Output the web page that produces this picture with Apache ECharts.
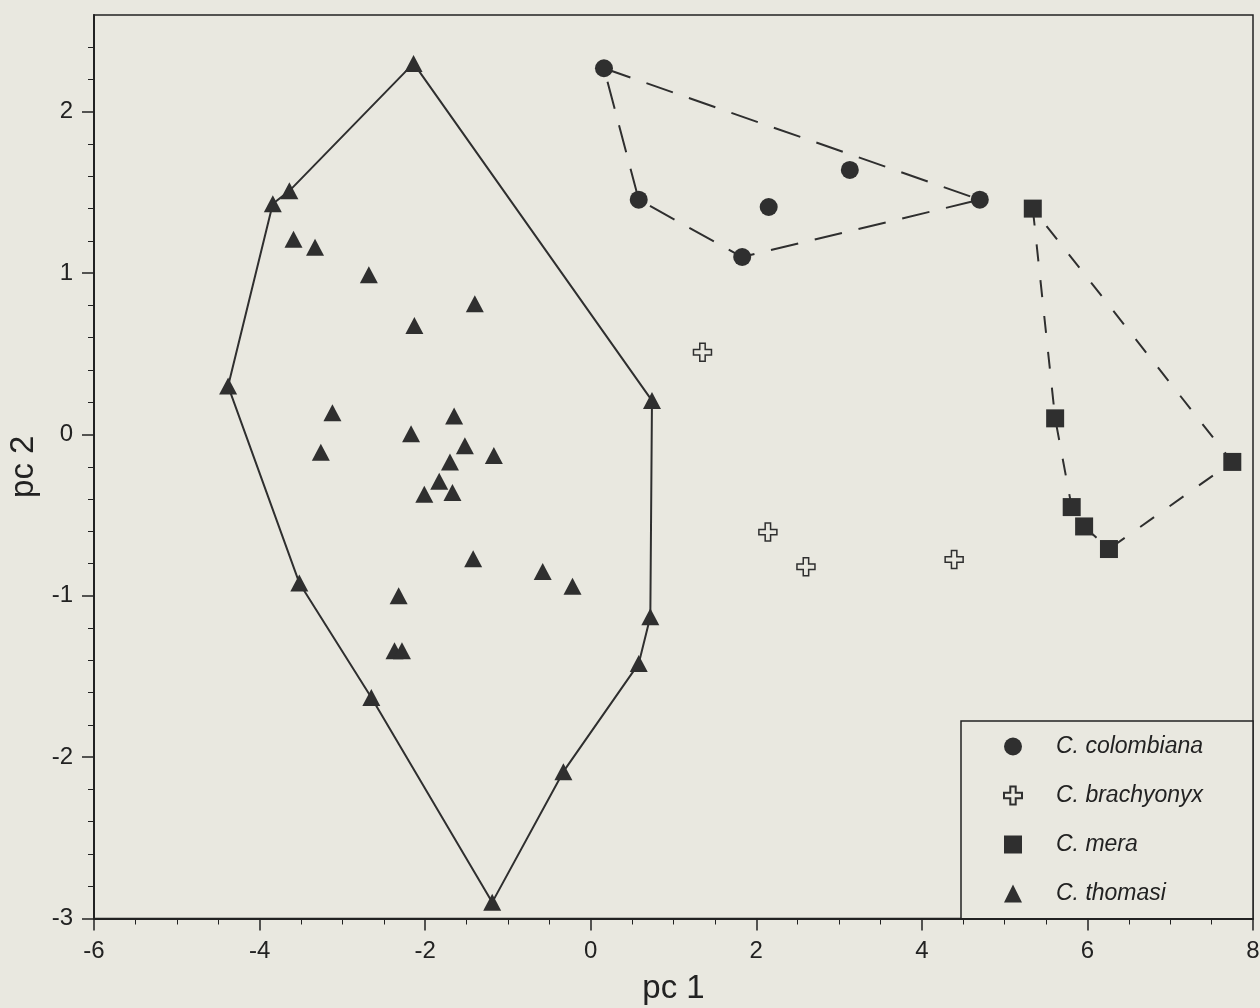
<!DOCTYPE html>
<html>
<head>
<meta charset="utf-8">
<script src="https://cdn.jsdelivr.net/npm/echarts@6/dist/echarts.min.js"></script>
<style>
  html, body { margin: 0; padding: 0; background: #e9e8e0; }
  #chart { width: 1260px; height: 1008px; }
</style>
</head>
<body>
<div id="chart"></div>
<script>
// ---- data ----
const seriesNames = ['C. colombiana', 'C. brachyonyx', 'C. mera', 'C. thomasi'];

const colombiana = [[0.16, 2.27], [0.58, 1.455], [1.83, 1.10], [2.15, 1.41], [3.13, 1.64], [4.70, 1.455]];
const colombianaHull = [0, 5, 2, 1, 0];

const brachyonyx = [[1.35, 0.51], [2.14, -0.605], [2.60, -0.82], [4.39, -0.775]];

const mera = [[5.34, 1.40], [5.61, 0.10], [5.81, -0.45], [5.96, -0.57], [6.26, -0.71], [7.75, -0.17]];
const meraHull = [0, 1, 2, 3, 4, 5, 0];

const thomasi = [
  [-2.14, 2.30], [-3.64, 1.51], [-3.84, 1.43], [-3.59, 1.21], [-3.33, 1.16], [-2.68, 0.99],
  [-2.13, 0.675], [-1.40, 0.81], [-4.38, 0.30], [-3.12, 0.135], [-3.26, -0.11], [-2.17, 0.005],
  [-1.65, 0.115], [-1.52, -0.07], [-1.17, -0.13], [-1.70, -0.17], [-1.83, -0.29], [-2.01, -0.37],
  [-1.67, -0.36], [-1.42, -0.77], [-0.58, -0.85], [-0.22, -0.94], [-3.52, -0.92], [-2.32, -1.00],
  [-2.37, -1.34], [-2.28, -1.34], [-2.65, -1.63], [-0.33, -2.09], [-1.19, -2.90], [0.58, -1.42],
  [0.72, -1.13], [0.74, 0.21]
];
const thomasiHull = [0, 1, 2, 8, 22, 26, 28, 27, 29, 30, 31, 0];

const yMajorTicks = [-3, -2, -1, 0, 1, 2];
const yMinorTicks = [-2.8, -2.6, -2.4, -2.2, -1.8, -1.6, -1.4, -1.2, -0.8, -0.6, -0.4, -0.2,
  0.2, 0.4, 0.6, 0.8, 1.2, 1.4, 1.6, 1.8, 2.2, 2.4];

// ---- styles ----
const BG = '#e9e8e0';
const INK = '#2f2f2f';
const FONT = 'Liberation Sans, Arial, sans-serif';
const crossPath = 'path://M7,0H13V7H20V13H13V20H7V13H0V7H7Z';

function pick(points, idx) { return idx.map(i => points[i]); }

const chart = echarts.init(document.getElementById('chart'));

const hullSeries = (data, dash) => ({
  type: 'line',
  data: data,
  symbol: 'none',
  silent: true,
  z: 1,
  lineStyle: { color: INK, width: 2, type: dash }
});

chart.setOption({
  animation: false,
  backgroundColor: BG,
  grid: {
    left: 94, right: 7, top: 15, bottom: 89.5,
    outerBoundsMode: 'none',
    containLabel: false,
    show: true, borderColor: '#222', borderWidth: 1.5, backgroundColor: 'transparent'
  },
  xAxis: {
    type: 'value', min: -6, max: 8, interval: 2,
    name: 'pc 1', nameLocation: 'middle', nameGap: 54,
    nameTextStyle: { fontSize: 33, fontFamily: FONT, color: '#222' },
    axisLine: { show: true, onZero: false, lineStyle: { color: '#222', width: 2 } },
    axisTick: { show: true, length: 12, lineStyle: { color: '#222', width: 1.5 } },
    minorTick: { show: true, splitNumber: 4, length: 6, lineStyle: { color: '#222', width: 1 } },
    axisLabel: { fontSize: 24, fontFamily: FONT, color: '#222', margin: 21 },
    splitLine: { show: false },
    minorSplitLine: { show: false }
  },
  yAxis: [{
    type: 'value', min: -3, max: 2.6,
    name: 'pc 2', nameLocation: 'middle', nameGap: 50,
    nameTextStyle: { fontSize: 33, fontFamily: FONT, color: '#222' },
    axisLine: { show: true, onZero: false, lineStyle: { color: '#222', width: 2 } },
    axisTick: { show: true, length: 12, customValues: yMajorTicks, lineStyle: { color: '#222', width: 1.5 } },
    axisLabel: { fontSize: 24, fontFamily: FONT, color: '#222', margin: 21, customValues: yMajorTicks },
    splitLine: { show: false }
  }, {
    type: 'value', min: -3, max: 2.6, position: 'left',
    axisLine: { show: false, onZero: false },
    axisTick: { show: true, length: 6, customValues: yMinorTicks, lineStyle: { color: '#222', width: 1 } },
    axisLabel: { show: false },
    splitLine: { show: false }
  }],
  legend: {
    data: seriesNames,
    orient: 'vertical',
    left: 1003, top: 735,
    padding: 0,
    itemWidth: 18, itemHeight: 18, itemGap: 26,
    selectedMode: false,
    textStyle: { fontSize: 23, fontStyle: 'italic', fontFamily: FONT, color: '#222', padding: [0, 0, 0, 29] }
  },
  graphic: [{
    type: 'rect', z: 0, silent: true,
    shape: { x: 961, y: 721, width: 292, height: 198 },
    style: { fill: BG, stroke: '#222', lineWidth: 1.5 }
  }],
  series: [
    hullSeries(pick(colombiana, colombianaHull), [28, 17]),
    hullSeries(pick(mera, meraHull), [17, 19]),
    hullSeries(pick(thomasi, thomasiHull), 'solid'),
    {
      name: seriesNames[0], type: 'scatter', data: colombiana, z: 3,
      symbol: 'circle', symbolSize: 18, itemStyle: { color: INK, opacity: 1 }
    },
    {
      name: seriesNames[1], type: 'scatter', data: brachyonyx, z: 3,
      symbol: crossPath, symbolSize: 18, symbolKeepAspect: true,
      itemStyle: { color: BG, borderColor: INK, borderWidth: 1.5, opacity: 1 }
    },
    {
      name: seriesNames[2], type: 'scatter', data: mera, z: 3,
      symbol: 'rect', symbolSize: 18, itemStyle: { color: INK, opacity: 1 }
    },
    {
      name: seriesNames[3], type: 'scatter', data: thomasi, z: 3,
      symbol: 'triangle', symbolSize: [18, 17], itemStyle: { color: INK, opacity: 1 }
    }
  ]
});
</script>
</body>
</html>
